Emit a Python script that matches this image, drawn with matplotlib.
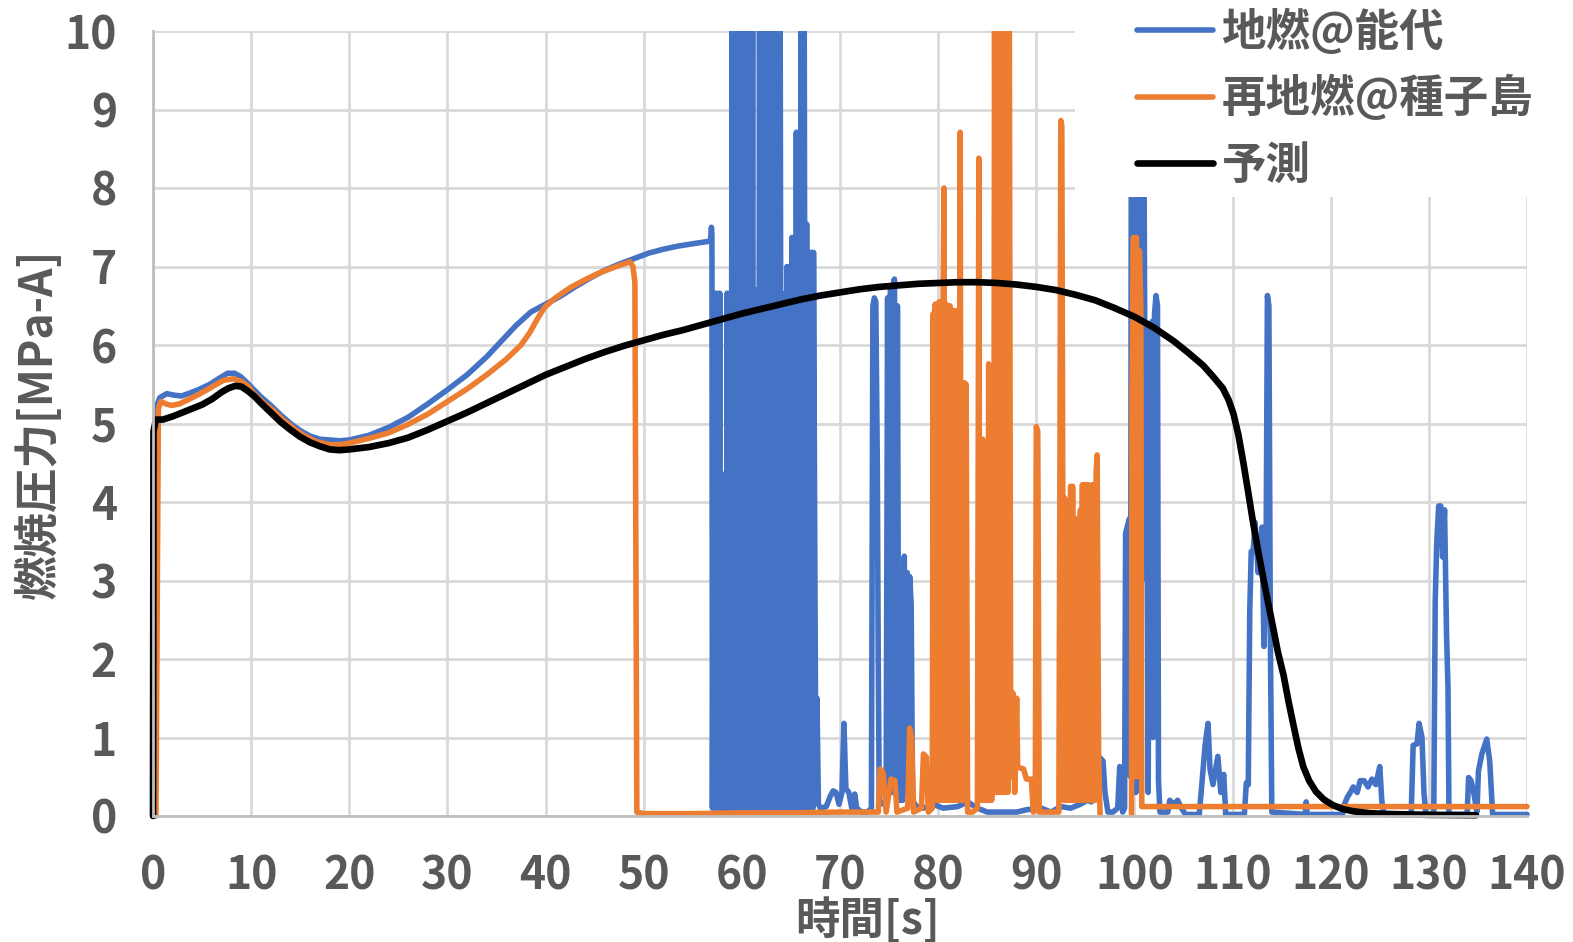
import matplotlib

matplotlib.use("Agg")
import matplotlib.pyplot as plt
from matplotlib.patches import Rectangle

NA = float("nan")  # gap: the trace is below the axis there

# values as (time [s], pressure [MPa-A]) pairs

# 予測 (prediction) -- smooth curve
PRED = [(0.0, 0.0), (0.05, 4.9), (0.3, 5.05), (1.0, 5.05), (2.0, 5.09), (3.0, 5.14), (4.0, 5.19),
        (5.0, 5.24), (6.0, 5.31), (7.0, 5.40), (7.7, 5.45), (8.4, 5.48), (9.0, 5.47), (9.6, 5.42),
        (10.3, 5.35), (11.0, 5.26), (12.0, 5.14), (13.0, 5.02), (14.0, 4.92), (15.0, 4.83),
        (16.0, 4.76), (17.0, 4.71), (18.0, 4.67), (19.0, 4.66), (20.0, 4.67), (22.0, 4.70),
        (24.0, 4.75), (26.0, 4.82), (28.0, 4.92), (30.0, 5.03), (32.0, 5.14), (34.0, 5.26),
        (36.0, 5.38), (38.0, 5.50), (40.0, 5.62), (42.0, 5.72), (44.0, 5.82), (46.0, 5.91),
        (48.0, 5.99), (50.0, 6.06), (52.0, 6.13), (54.0, 6.19), (56.0, 6.26), (58.0, 6.33),
        (60.0, 6.40), (62.0, 6.46), (64.0, 6.52), (66.0, 6.58), (68.0, 6.63), (70.0, 6.67),
        (72.0, 6.71), (74.0, 6.74), (76.0, 6.76), (78.0, 6.78), (80.0, 6.79), (82.0, 6.80),
        (84.0, 6.80), (86.0, 6.79), (88.0, 6.77), (90.0, 6.74), (92.0, 6.70), (94.0, 6.64),
        (96.0, 6.57), (98.0, 6.47), (100.0, 6.36), (102.0, 6.22), (104.0, 6.05), (105.5, 5.90),
        (107.0, 5.74), (108.0, 5.60), (109.0, 5.45), (109.6, 5.30), (110.1, 5.12), (110.6, 4.85),
        (111.1, 4.50), (111.6, 4.12), (112.1, 3.73), (112.6, 3.38), (113.1, 3.05), (113.6, 2.73),
        (114.1, 2.42), (114.6, 2.10), (115.2, 1.79), (115.7, 1.46), (116.2, 1.16), (116.7, 0.87),
        (117.2, 0.63), (117.8, 0.45), (118.5, 0.31), (119.3, 0.21), (120.2, 0.14), (121.2, 0.09),
        (122.3, 0.06), (124.0, 0.035), (126.0, 0.025), (130.0, 0.015), (134.8, 0.01)]

# 地燃@能代 (blue): smooth part up to 57 s
NOSHIRO_SMOOTH = [(0.0, 0.0), (0.2, 0.1), (0.3, 5.0), (0.45, 5.25), (0.7, 5.33), (1.4, 5.38),
                  (2.2, 5.36), (2.9, 5.35), (3.8, 5.39), (4.8, 5.44), (5.8, 5.50), (6.8, 5.58),
                  (7.6, 5.64), (8.3, 5.64), (8.9, 5.60), (9.5, 5.53), (10.2, 5.44), (11.0, 5.34),
                  (12.0, 5.23), (13.0, 5.11), (14.0, 5.00), (15.0, 4.91), (16.0, 4.84), (17.0, 4.80),
                  (18.0, 4.79), (19.0, 4.78), (20.0, 4.79), (22.0, 4.85), (24.0, 4.95), (26.0, 5.08),
                  (28.0, 5.25), (30.0, 5.43), (32.0, 5.62), (34.0, 5.85), (35.5, 6.05), (37.0, 6.25),
                  (38.5, 6.42), (40.0, 6.52), (41.5, 6.62), (43.0, 6.74), (44.5, 6.85), (46.0, 6.95),
                  (47.5, 7.03), (49.0, 7.10), (50.5, 7.17), (52.0, 7.22), (53.5, 7.26), (55.0, 7.29),
                  (56.6, 7.32), (56.8, 7.32)]
# 地燃@能代: oscillating burst 57-68 s (10.5 = beyond the top of the axis)
NOSHIRO_BURST = [(56.9, 7.5), (56.95, 7.4), (57.0, 0.1), (57.15, 6.66), (57.3, 0.1), (57.45, 6.66),
                 (57.6, 0.1), (57.75, 6.66), (57.85, 0.1), (57.95, 4.36), (58.1, 0.1), (58.2, 4.3),
                 (58.25, 0.1), (58.3, 1.9), (58.38, 0.1), (58.5, 6.66), (58.65, 0.1), (58.8, 6.66),
                 (58.9, 0.1), (59.0, 10.5), (59.15, 0.1), (59.3, 10.5), (59.45, 0.1), (59.6, 10.5),
                 (59.75, 0.1), (59.9, 10.5), (60.05, 0.1), (60.2, 10.5), (60.35, 0.1), (60.5, 10.5),
                 (60.65, 0.1), (60.8, 10.5), (60.95, 0.1), (61.1, 10.5), (61.2, 0.1), (61.3, 6.7),
                 (61.45, 0.1), (61.6, 6.7), (61.7, 0.1), (61.8, 10.5), (61.95, 0.1), (62.1, 10.5),
                 (62.25, 0.1), (62.4, 10.5), (62.55, 0.1), (62.7, 10.5), (62.85, 0.1), (63.0, 10.5),
                 (63.15, 0.1), (63.3, 10.5), (63.45, 0.1), (63.6, 10.5), (63.75, 0.1), (63.9, 10.5),
                 (64.05, 0.1), (64.2, 6.65), (64.35, 0.1), (64.45, 6.65), (64.5, 0.1), (64.6, 7.0),
                 (64.75, 0.1), (64.9, 7.0), (65.0, 0.1), (65.1, 7.37), (65.25, 0.1), (65.35, 7.37),
                 (65.45, 0.1), (65.55, 8.71), (65.7, 0.1), (65.85, 8.71), (65.95, 0.1), (66.05, 10.5),
                 (66.2, 0.1), (66.35, 10.5), (66.5, 0.1), (66.6, 7.54), (66.7, 0.1), (66.8, 7.18),
                 (66.95, 0.1), (67.1, 7.18), (67.25, 0.1), (67.3, 7.18), (67.45, 2.83), (67.55, 0.3),
                 (67.65, 1.5), (67.8, 0.15)]
# 地燃@能代: after the burst
NOSHIRO_TAIL = [(68.0, 0.1), (68.6, 0.12), (69.0, 0.25), (69.3, 0.32), (69.6, 0.3), (69.9, 0.15),
                (70.2, 0.3), (70.4, 1.18), (70.6, 0.35), (70.9, 0.3), (71.2, 0.1), (71.5, 0.28),
                (71.7, 0.1), (72.2, 0.05), (72.8, 0.05), (73.2, 0.1), (73.35, 6.5), (73.5, 6.6),
                (73.65, 6.55), (73.8, 4.5), (73.9, 1.9), (74.0, 0.2), (74.4, 0.15), (74.7, 0.2),
                (74.85, 6.6), (75.0, 0.3), (75.15, 6.7), (75.3, 0.3), (75.45, 6.8), (75.55, 6.84),
                (75.7, 0.3), (75.85, 6.5), (76.0, 0.2), (76.4, 0.2), (76.55, 3.31), (76.7, 0.3),
                (76.85, 3.1), (77.0, 0.3), (77.1, 3.05), (77.25, 2.7), (77.4, 0.2), (77.8, 0.12),
                (78.5, 0.1), (79.5, 0.15), (80.5, 0.1), (82.0, 0.12), (83.0, 0.18), (84.0, 0.1),
                (85.0, 0.05), (86.0, 0.05), (88.0, 0.05), (89.0, 0.08), (90.5, 0.1), (91.5, 0.05),
                (92.5, 0.12), (93.5, 0.1), (94.5, 0.15), (95.2, 0.2), (95.6, 0.18), (96.2, 0.25),
                (96.5, 0.74), (96.8, 0.7), (97.0, 0.3), (97.3, 0.05), (97.8, 0.05), (98.3, 0.1),
                (98.5, 0.63), (98.65, 0.6), (98.8, 0.05), (99.0, 0.1), (99.1, 3.6), (99.3, 3.7),
                (99.5, 3.79), (99.6, 0.5), (99.7, 10.5), (99.85, 0.3), (100.0, 10.5), (100.15, 0.3),
                (100.3, 10.5), (100.45, 2.0), (100.6, 10.5), (100.75, 3.0), (100.9, 10.5),
                (101.05, 6.2), (101.2, 6.21), (101.4, 0.3), (101.6, 6.2), (101.8, 6.3), (101.9, 1.0),
                (102.05, 6.4), (102.2, 6.63), (102.35, 6.5), (102.45, 0.45), (102.6, 0.05),
                (103.4, 0.05), (103.6, 0.2), (104.0, 0.15), (104.4, 0.2), (104.8, 0.1), (105.2, 0.02),
                (106.6, 0.02), (106.8, 0.3), (107.2, 0.9), (107.5, 1.18), (107.7, 0.6), (108.0, 0.4),
                (108.5, 0.76), (108.8, 0.3), (109.1, 0.53), (109.3, 0.02), (111.2, 0.02),
                (111.4, 0.42), (111.6, 0.4), (111.75, 2.6), (111.9, 3.37), (112.1, 3.37),
                (112.3, 3.74), (112.6, 3.1), (112.8, 3.3), (113.0, 3.68), (113.2, 2.16), (113.4, 3.0),
                (113.55, 6.63), (113.7, 6.5), (113.85, 2.3), (114.0, 0.05), (117.4, 0.02),
                (117.5, 0.18), (117.6, 0.02), (121.2, 0.02), (121.4, 0.15), (121.7, 0.24),
                (122.0, 0.3), (122.3, 0.37), (122.7, 0.3), (123.0, 0.45), (123.4, 0.45),
                (123.8, 0.37), (124.2, 0.47), (124.6, 0.4), (125.0, 0.63), (125.2, 0.2),
                (125.4, 0.02), (128.2, 0.02), (128.4, 0.9), (128.8, 0.92), (129.0, 1.18),
                (129.3, 1.0), (129.5, 0.3), (129.7, 0.02), (130.5, 0.02), (130.65, 2.74),
                (130.8, 3.47), (131.0, 3.95), (131.2, 3.95), (131.4, 3.3), (131.6, 3.9),
                (131.8, 2.32), (131.95, 1.63), (132.05, 0.02), (133.9, 0.02), (134.05, 0.49),
                (134.3, 0.45), (134.6, 0.28), (134.9, 0.05), (135.05, 0.57), (135.4, 0.79),
                (135.9, 0.98), (136.2, 0.7), (136.5, 0.02), (140.0, 0.02)]

# 再地燃@種子島 (orange)
TANE_SMOOTH = [(0.3, 0.0), (0.45, 3.0), (0.55, 5.19), (0.8, 5.28), (1.3, 5.25), (1.9, 5.23),
               (2.7, 5.25), (3.7, 5.31), (4.8, 5.38), (5.8, 5.45), (6.6, 5.51), (7.2, 5.55),
               (8.2, 5.57), (9.1, 5.53), (9.7, 5.47), (10.2, 5.39), (11.0, 5.29), (12.2, 5.17),
               (13.3, 5.04), (14.5, 4.92), (15.5, 4.84), (16.6, 4.77), (18.0, 4.73), (19.0, 4.73),
               (20.0, 4.75), (22.0, 4.81), (24.0, 4.88), (26.0, 4.99), (28.0, 5.12), (30.0, 5.28),
               (32.0, 5.44), (34.0, 5.62), (36.0, 5.82), (37.5, 6.00), (38.4, 6.16), (39.2, 6.34),
               (39.9, 6.48), (41.0, 6.60), (42.5, 6.73), (44.0, 6.83), (45.5, 6.92), (47.0, 6.99),
               (48.6, 7.06), (48.9, 7.0), (49.1, 6.8), (49.3, 0.05), (50.0, 0.03), (55.0, 0.03),
               (60.0, 0.04), (65.0, 0.04), (70.0, 0.05), (73.9, 0.05)]
TANE_BURST = [(74.1, 0.6), (74.4, 0.55), (74.7, 0.05), (75.2, 0.47), (75.6, 0.45), (75.8, 0.05),
              (76.9, 0.1), (77.1, 1.12), (77.3, 1.0), (77.5, 0.05), (78.3, 0.1), (78.5, 0.79),
              (78.8, 0.75), (79.0, 0.05), (79.4, 0.1), (79.5, 6.4), (79.6, 0.2), (79.7, 6.52),
              (79.8, 0.2), (79.9, 6.52), (80.0, 0.2), (80.1, 6.55), (80.2, 0.2), (80.3, 6.55),
              (80.4, 0.2), (80.5, 6.5), (80.6, 8.0), (80.7, 0.2), (80.8, 6.52), (80.9, 0.2),
              (81.0, 6.5), (81.1, 0.2), (81.2, 6.5), (81.3, 0.2), (81.4, 6.44), (81.5, 0.2),
              (81.6, 6.44), (81.7, 0.2), (81.8, 6.3), (81.9, 0.2), (82.0, 6.44), (82.1, 0.2),
              (82.2, 6.44), (82.25, 8.71), (82.35, 0.2), (82.45, 5.52), (82.55, 0.2), (82.65, 5.52),
              (82.75, 0.2), (82.85, 5.5), (83.0, 0.05), (83.5, 0.05), (84.0, 0.1), (84.15, 8.38),
              (84.25, 0.2), (84.35, 4.8), (84.45, 0.2), (84.55, 4.8), (84.65, 0.2), (84.75, 3.45),
              (84.85, 0.2), (84.95, 3.45), (85.05, 0.2), (85.15, 5.76), (85.25, 0.2), (85.35, 5.7),
              (85.45, 0.2), (85.55, 5.7), (85.65, 0.3), (85.75, 10.5), (85.9, 0.3), (86.05, 10.5),
              (86.2, 0.3), (86.35, 10.5), (86.5, 0.3), (86.65, 10.5), (86.8, 0.3), (86.95, 10.5),
              (87.1, 0.3), (87.25, 10.5), (87.4, 0.5), (87.6, 1.57), (87.8, 0.3), (88.0, 1.5),
              (88.1, 0.62), (88.7, 0.6), (89.0, 0.47), (89.5, 0.47), (89.7, 0.05), (89.9, 0.1),
              (90.0, 4.96), (90.15, 4.9), (90.3, 0.05), (92.3, 0.05), (92.4, 4.0), (92.5, 8.86),
              (92.6, 8.8), (92.7, 4.05), (92.8, 0.2), (92.9, 4.05), (93.0, 0.2), (93.1, 1.86),
              (93.2, 0.2), (93.3, 1.86), (93.4, 0.2), (93.5, 4.2), (93.6, 0.2), (93.7, 4.2),
              (93.8, 0.2), (93.9, 3.2), (94.0, 0.2), (94.1, 3.2), (94.2, 0.2), (94.3, 3.8),
              (94.4, 0.2), (94.5, 3.9), (94.6, 0.2), (94.7, 4.22), (94.8, 0.2), (94.9, 4.22),
              (95.0, 0.2), (95.1, 4.22), (95.2, 1.57), (95.3, 4.22), (95.4, 0.2), (95.5, 4.1),
              (95.6, 0.2), (95.7, 4.22), (95.8, 0.2), (95.9, 4.22), (96.0, 0.2), (96.1, 4.4),
              (96.2, 4.6), (96.35, 0.8), (96.5, 0.02), (96.55, NA),
              (99.7, 0.02), (99.75, 5.26), (99.9, 7.37), (100.05, 0.5), (100.2, 7.37), (100.35, 0.5),
              (100.5, 7.2), (100.65, 6.5), (100.75, 0.12), (140.0, 0.12)]

LABELS = ["地燃@能代", "再地燃@種子島", "予測"]
X_TICKS = list(range(0, 141, 10))
Y_TICKS = list(range(0, 11))

noshiro = NOSHIRO_SMOOTH + NOSHIRO_BURST + NOSHIRO_TAIL
tane = TANE_SMOOTH + TANE_BURST

plt.rcParams["font.family"] = ["Noto Sans CJK JP", "DejaVu Sans"]
plt.rcParams["font.weight"] = "bold"
TEXT = "#595959"

fig = plt.figure(figsize=(15.73, 9.42), dpi=100)
ax = fig.add_axes([153 / 1573, 126 / 942, 1374 / 1573, 785 / 942])

clip = Rectangle((-1.0, -0.12), 142.0, 10.12, transform=ax.transData)
style = dict(solid_capstyle="round", solid_joinstyle="round")
series = [(noshiro, "#4472C4", 4.0), (tane, "#ED7D31", 4.0), (PRED, "#000000", 4.8)]
for (pts, color, lw), label in zip(series, LABELS):
    t, p = zip(*pts)
    (ln,) = ax.plot(t, p, color=color, lw=lw, label=label, **style)
    ln.set_clip_path(clip)

ax.set_xlim(0, 140)
ax.set_ylim(0, 10)
ax.set_xticks(X_TICKS)
ax.set_yticks(Y_TICKS)
ax.grid(True, color="#D9D9D9", linewidth=2)
ax.set_axisbelow(True)
for side in ["top", "right"]:
    ax.spines[side].set_visible(False)
for side in ["left", "bottom"]:
    ax.spines[side].set_color("#BFBFBF")
    ax.spines[side].set_linewidth(2)
ax.tick_params(length=0, labelsize=32, labelcolor=TEXT)
ax.tick_params(axis="y", pad=26)
ax.tick_params(axis="x", pad=27)

ax.set_xlabel("時間[s]", fontsize=32, fontweight="bold", color=TEXT)
ax.xaxis.set_label_coords(0.5204, -0.104)
ax.set_ylabel("燃焼圧力[MPa-A]", fontsize=32, fontweight="bold", color=TEXT, labelpad=2)

# legend sits on a white block over the top-right corner, like the Excel chart
ax.add_patch(Rectangle((1075 / 1573, 1 - 197 / 942), 1.0, 1.0, transform=fig.transFigure,
                       facecolor="white", edgecolor="none", zorder=4, clip_on=False))
leg = ax.legend(loc="upper left", bbox_to_anchor=(1137 / 1573, 0.99), bbox_transform=fig.transFigure,
                frameon=False, fontsize=32, handlelength=1.7, handletextpad=0.2,
                labelspacing=0.46, borderpad=0, borderaxespad=0)
leg.set_zorder(5)
for txt in leg.get_texts():
    txt.set_color(TEXT)

fig.savefig("out.png", dpi=100)
